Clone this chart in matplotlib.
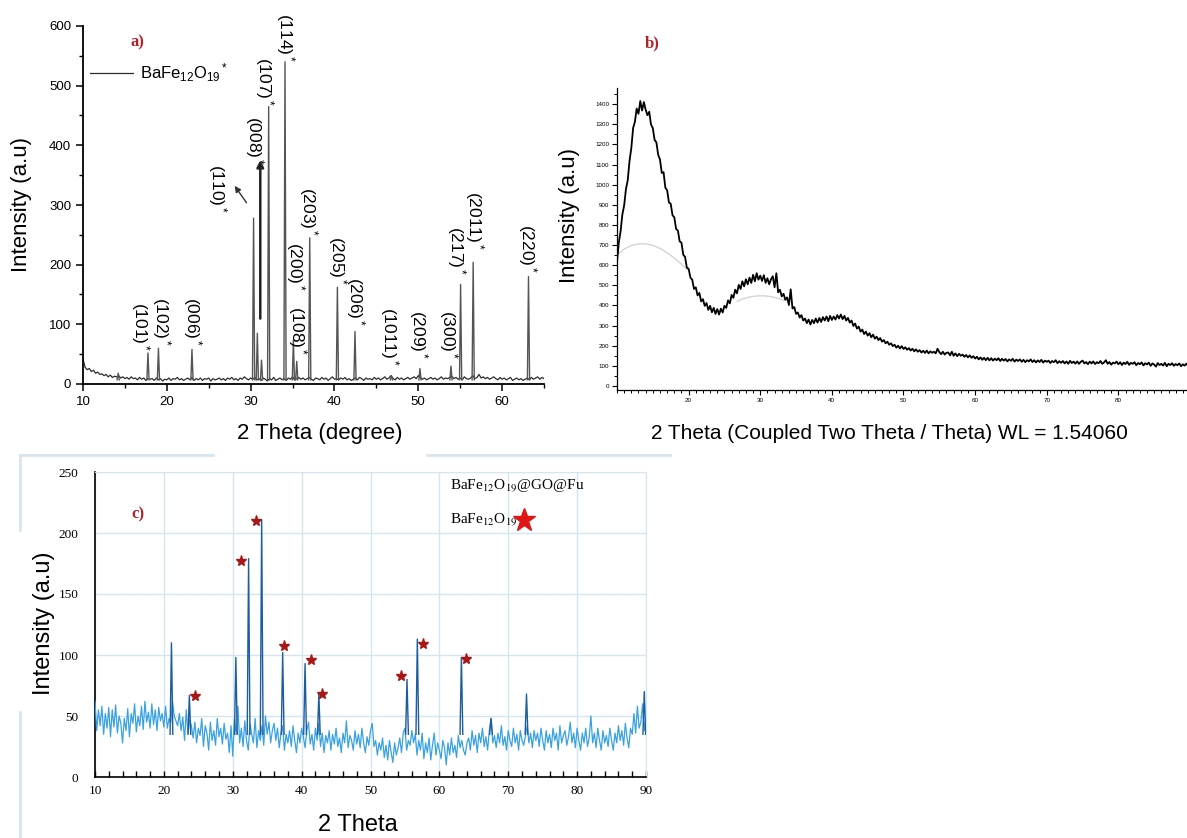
import numpy as np
import matplotlib
matplotlib.use('Agg')
import matplotlib.pyplot as plt
from matplotlib.lines import Line2D
from matplotlib.ticker import MultipleLocator
from matplotlib.font_manager import FontProperties

plt.rcParams['font.family'] = ['Liberation Sans', 'DejaVu Sans']
plt.rcParams['mathtext.fontset'] = 'custom'
plt.rcParams['mathtext.rm'] = 'Liberation Sans'
plt.rcParams['mathtext.it'] = 'Liberation Sans:italic'
plt.rcParams['mathtext.bf'] = 'Liberation Sans:bold'

# ---------------- panel a : BaFe12O19 ----------------
a_theta0, a_step = 10.0, 0.25
a_counts = [42, 28, 24, 26, 21, 23, 18, 20, 16,
            17, 14, 16, 12, 15, 11, 13, 12,
            14, 10, 12, 9, 11, 8, 12, 9,
            10, 7, 11, 8, 10, 6, 9, 8,
            9, 6, 10, 7, 9, 5, 8, 7,
            10, 6, 9, 8, 11, 7, 9, 6,
            8, 10, 7, 11, 6, 9, 7, 10,
            6, 9, 8, 10, 5, 9, 7, 8,
            10, 7, 9, 6, 10, 8, 11, 7,
            9, 6, 10, 8, 12, 9, 7, 10,
            8, 11, 7, 9, 6, 10, 8, 5,
            9, 7, 11, 6, 8, 10, 7, 9,
            6, 10, 8, 12, 7, 9, 11, 8,
            10, 7, 9, 11, 8, 6, 10, 9,
            7, 11, 8, 10, 6, 9, 12, 8,
            9, 7, 10, 8, 11, 7, 9, 6,
            8, 10, 7, 11, 9, 6, 10, 8,
            9, 7, 11, 8, 10, 7, 9, 12,
            8, 10, 14, 9, 7, 11, 8, 10,
            7, 9, 11, 8, 10, 12, 9, 14,
            11, 8, 10, 7, 9, 11, 8, 10,
            7, 9, 12, 8, 10, 9, 11, 13,
            9, 11, 8, 10, 7, 12, 9, 8,
            10, 14, 9, 11, 16, 10, 12, 9,
            11, 8, 10, 12, 9, 7, 11, 8,
            10, 7, 9, 11, 6, 8, 10, 7,
            9, 6, 8, 10, 7, 11, 8, 10,
            12, 8, 11, 9]
a_peak_pos = [14.2, 17.75, 19.0, 23.0, 30.35, 30.8, 31.3, 32.15, 34.1, 35.1, 35.5,
              37.05, 40.35, 42.45, 46.8, 50.2, 53.9, 55.05, 56.55, 63.15]
a_peak_h = [18, 52, 60, 58, 278, 85, 40, 465, 540, 74, 38,
            245, 162, 88, 14, 26, 30, 167, 204, 180]
a_labels = ['(101)', '(102)', '(006)', '(110)', '(008)', '(107)', '(114)', '(200)', '(108)',
            '(203)', '(205)', '(206)', '(1011)', '(209)', '(300)', '(217)', '(2011)', '(220)']
a_label_x = [16.9, 19.4, 23.0, 26.1, 30.4, 31.7, 34.1, 35.4, 35.55,
             36.85, 40.3, 42.5, 46.6, 50.0, 53.6, 54.55, 56.75, 63.0]
a_label_y = [54, 63, 63, 286, 367, 465, 540, 155, 48,
             248, 166, 97, 30, 41, 41, 182, 224, 185]

# ---------------- panel b : amorphous pattern ----------------
b_theta0, b_step = 10.0, 0.25
b_counts = [615, 712, 768, 852, 897, 978, 1022, 1118, 1182,
            1281, 1312, 1378, 1352, 1415, 1368, 1410, 1372,
            1345, 1362, 1298, 1281, 1222, 1210, 1148, 1125,
            1058, 1062, 985, 972, 912, 905, 848, 838,
            780, 772, 718, 712, 652, 641, 588, 582,
            538, 528, 482, 490, 450, 462, 420, 431,
            398, 412, 378, 398, 366, 388, 358, 382,
            355, 384, 365, 398, 388, 425, 410, 452,
            438, 478, 460, 502, 482, 520, 495, 530,
            505, 538, 512, 552, 520, 560, 528, 548,
            522, 550, 512, 535, 505, 530, 545, 490,
            560, 465, 478, 445, 458, 428, 440, 402,
            480, 385, 392, 358, 365, 340, 352, 325,
            335, 312, 330, 305, 328, 312, 335, 315,
            338, 318, 342, 325, 345, 322, 348, 328,
            345, 330, 352, 335, 355, 332, 348, 325,
            338, 315, 325, 298, 310, 285, 295, 270,
            280, 258, 270, 250, 262, 242, 255, 235,
            245, 228, 238, 220, 228, 212, 220, 205,
            212, 198, 205, 190, 200, 186, 198, 184,
            192, 180, 188, 176, 185, 172, 182, 170,
            178, 166, 175, 164, 176, 162, 172, 165,
            170, 162, 185, 168, 158, 170, 156, 165,
            166, 152, 170, 150, 162, 148, 160, 150,
            156, 145, 154, 142, 152, 140, 148, 136,
            145, 132, 142, 130, 140, 128, 140, 127,
            138, 126, 136, 128, 138, 124, 135, 126,
            134, 122, 132, 125, 135, 121, 131, 124,
            132, 120, 130, 118, 128, 122, 132, 119,
            128, 117, 127, 119, 130, 116, 126, 120,
            126, 114, 124, 118, 128, 113, 123, 115,
            124, 112, 122, 110, 125, 114, 121, 111,
            122, 110, 120, 126, 112, 119, 108, 121,
            112, 122, 109, 118, 113, 124, 110, 117,
            128, 110, 119, 106, 116, 112, 121, 108,
            118, 104, 116, 109, 120, 105, 115, 110,
            118, 103, 114, 108, 117, 102, 113, 107,
            116, 100, 112, 106, 96, 114, 104, 110,
            101, 115, 98, 110, 104, 113, 100, 109,
            103, 112, 98, 108, 101, 111, 100, 107]
b_bg1_x = [10, 11, 12, 13, 14, 15, 16, 17, 18, 19, 19.8]
b_bg1_y = [650, 680, 698, 706, 706, 698, 684, 662, 635, 605, 578]
b_bg2_x = [26.8, 27.5, 28.5, 29.5, 30.5, 31.5, 32.5, 33.3]
b_bg2_y = [420, 432, 442, 447, 448, 444, 435, 425]

# ---------------- panel c : BaFe12O19@GO@Fu ----------------
c_theta0, c_step = 10.0, 0.25
c_counts = [62, 38, 55, 42, 58, 35, 52, 40, 57,
            33, 55, 41, 59, 36, 50, 44, 28,
            48, 38, 56, 33, 52, 44, 60, 37,
            50, 42, 58, 39, 62, 45, 53, 40,
            60, 43, 55, 38, 57, 46, 52, 41,
            58, 40, 48, 44, 62, 50, 46, 42,
            52, 38, 49, 30, 55, 36, 47, 42,
            32, 45, 28, 40, 34, 48, 25, 42,
            36, 22, 45, 30, 38, 26, 48, 33,
            40, 27, 44, 31, 36, 20, 42, 17,
            48, 35, 58, 28, 40, 25, 46, 30,
            22, 44, 35, 28, 48, 24, 38, 30,
            42, 26, 50, 35, 45, 28, 38, 44,
            30, 40, 24, 36, 42, 22, 35, 28,
            38, 25, 42, 30, 20, 36, 28, 40,
            33, 24, 38, 45, 27, 35, 22, 40,
            30, 44, 25, 36, 20, 34, 28, 38,
            22, 35, 27, 40, 25, 32, 20, 36,
            28, 46, 24, 34, 30, 22, 38, 27,
            35, 24, 40, 28, 20, 33, 26, 38,
            44, 25, 30, 18, 28, 22, 32, 16,
            26, 14, 30, 20, 12, 28, 18, 24,
            32, 20, 36, 40, 22, 30, 26, 38,
            28, 35, 18, 30, 22, 36, 15, 28,
            20, 32, 14, 26, 36, 18, 28, 22,
            15, 30, 24, 10, 28, 18, 32, 20,
            26, 16, 34, 24, 30, 22, 18, 28,
            32, 22, 38, 26, 34, 20, 36, 28,
            40, 25, 33, 22, 38, 48, 28, 34,
            24, 36, 28, 42, 26, 33, 22, 38,
            30, 25, 40, 28, 35, 22, 38, 30,
            26, 34, 42, 28, 36, 24, 38, 30,
            36, 25, 40, 30, 22, 38, 28, 35,
            24, 40, 30, 36, 22, 42, 28, 34,
            38, 26, 33, 45, 28, 36, 24, 40,
            30, 22, 36, 28, 40, 25, 32, 50,
            28, 36, 24, 40, 30, 22, 38, 28,
            34, 25, 40, 30, 22, 36, 28, 42,
            30, 38, 26, 44, 32, 24, 40, 35,
            52, 36, 58, 40, 45, 60, 38, 48]
c_peak_pos = [21.1, 23.7, 30.45, 32.3, 34.2, 37.25, 40.5, 42.5, 55.3, 56.8, 63.2, 67.5, 72.65, 89.75]
c_peak_h = [110, 67, 98, 179, 211, 102, 93, 68, 80, 113, 98, 48, 68, 70]
c_star_x = [24.5, 31.2, 33.4, 37.4, 41.3, 43.0, 54.4, 57.6, 63.8]
c_star_y = [66, 177, 210, 107, 96, 68, 83, 109, 97]

W, H = 1187, 838
RED = '#b3202a'


def box(l, t, r, b):
    return [l / W, 1 - b / H, (r - l) / W, (b - t) / H]


def peak_lines(pos, h, base, w):
    xs, ys = [], []
    for p, v in zip(pos, h):
        xs += [p - w, p, p + w, np.nan]
        ys += [base, v, base, np.nan]
    return xs, ys


fig = plt.figure(figsize=(W / 100, H / 100), dpi=100)

# ---- a ----
ax = fig.add_axes(box(83, 26, 544, 384))
a_x = a_theta0 + a_step * np.arange(len(a_counts))
ax.plot(a_x, a_counts, color='#2e2e2e', lw=0.9, label=r'BaFe$_{12}$O$_{19}$$^*$')
px, py = peak_lines(a_peak_pos, a_peak_h, 7, 0.13)
ax.plot(px, py, color='#555555', lw=1.0)
for lab, lx, ly in zip(a_labels, a_label_x, a_label_y):
    ax.text(lx, ly, lab + r'$^*$', rotation=270, ha='center', va='bottom',
            fontsize=12.5, clip_on=False)
ax.annotate('', xy=(31.15, 380), xytext=(31.15, 105),
            arrowprops=dict(arrowstyle='-|>', color='#222222', lw=1.8, mutation_scale=10))
ax.annotate('', xy=(27.9, 336), xytext=(29.7, 300),
            arrowprops=dict(arrowstyle='-|>', color='#333333', lw=1.0, mutation_scale=9))
ax.set_xlim(10, 65)
ax.set_ylim(0, 600)
ax.xaxis.set_major_locator(MultipleLocator(10))
ax.xaxis.set_minor_locator(MultipleLocator(5))
ax.yaxis.set_major_locator(MultipleLocator(100))
ax.yaxis.set_minor_locator(MultipleLocator(50))
ax.tick_params(which='major', length=5, width=1.1, labelsize=9.5)
ax.tick_params(which='minor', length=3, width=1.0)
for s in ['top', 'right']:
    ax.spines[s].set_visible(False)
for s in ['left', 'bottom']:
    ax.spines[s].set_linewidth(1.3)
leg = ax.legend(loc='center left', bbox_to_anchor=(0.015, 0.869), frameon=False,
                handlelength=2.6, handletextpad=0.4, borderpad=0, borderaxespad=0,
                prop=FontProperties(family='Liberation Sans', size=12))
ax.text(0.118, 0.955, 'a)', transform=ax.transAxes, ha='center', va='center',
        color=RED, fontsize=12, fontweight='bold', family='Liberation Serif')
fig.text(22 / W, 1 - 205 / H, 'Intensity (a.u)', rotation=90, ha='center', va='center', fontsize=16)
fig.text(320 / W, 1 - 433 / H, '2 Theta (degree)', ha='center', va='center', fontsize=16)

# ---- b ----
bx = fig.add_axes(box(617, 88, 1190, 390))
b_x = b_theta0 + b_step * np.arange(len(b_counts))
bx.plot(b_bg1_x, b_bg1_y, color='#d4d4d4', lw=1.0, zorder=1)
bx.plot(b_bg2_x, b_bg2_y, color='#d4d4d4', lw=1.0, zorder=1)
bx.plot(b_x, b_counts, color='black', lw=1.3, zorder=2)
bx.set_xlim(10, 90)
bx.set_ylim(-20, 1480)
bx.set_xticks(np.arange(20, 91, 10))
bx.xaxis.set_minor_locator(MultipleLocator(1))
bx.set_yticks(np.arange(0, 1401, 100))
bx.yaxis.set_minor_locator(MultipleLocator(50))
bx.tick_params(which='major', length=3.5, width=0.8, labelsize=4.5, pad=2)
bx.tick_params(which='minor', length=2, width=0.7)
for s in ['top', 'right']:
    bx.spines[s].set_visible(False)
for s in ['left', 'bottom']:
    bx.spines[s].set_linewidth(0.9)
fig.text(652 / W, 1 - 43 / H, 'b)', ha='center', va='center', color=RED,
         fontsize=12, fontweight='bold', family='Liberation Serif')
fig.text(569 / W, 1 - 215 / H, 'Intensity (a.u)', rotation=90, ha='center', va='center', fontsize=16)
fig.text(889 / W, 1 - 433 / H, '2 Theta (Coupled Two Theta / Theta) WL = 1.54060',
         ha='center', va='center', fontsize=15)

# ---- c ----
cx = fig.add_axes(box(95, 472, 646, 777))
c_x = c_theta0 + c_step * np.arange(len(c_counts))
cx.plot(c_x, c_counts, color='#3aa2e0', lw=0.9, zorder=3)
px, py = peak_lines(c_peak_pos, c_peak_h, 35, 0.2)
cx.plot(px, py, color='#1c5d9e', lw=1.0, zorder=4)
cx.plot(c_star_x, c_star_y, linestyle='none', marker='*', color='#a81818', markersize=8, zorder=5)
cx.set_xlim(10, 90)
cx.set_ylim(0, 250)
cx.xaxis.set_major_locator(MultipleLocator(10))
cx.xaxis.set_minor_locator(MultipleLocator(2))
cx.yaxis.set_major_locator(MultipleLocator(50))
cx.grid(True, which='major', color='#d6e6f0', lw=1.0, zorder=0)
cx.set_axisbelow(True)
cx.tick_params(axis='x', which='both', direction='in', length=4, width=1.0, labelsize=9.5, pad=6)
cx.tick_params(axis='y', length=0, labelsize=9.5, pad=12)
for t in cx.get_xticklabels() + cx.get_yticklabels():
    t.set_family('Liberation Serif')
for s in ['top', 'right']:
    cx.spines[s].set_color('#d6e6f0')
for s in ['left', 'bottom']:
    cx.spines[s].set_linewidth(1.2)
cx.text(61.6, 239, r'BaFe$_{12}$O$_{19}$@GO@Fu', family='Liberation Serif', math_fontfamily='stix',
        fontsize=11, va='center', ha='left')
cx.text(61.6, 210.5, r'BaFe$_{12}$O$_{19}$', family='Liberation Serif', math_fontfamily='stix',
        fontsize=11, va='center', ha='left')
cx.plot([72.3], [211], marker='*', color='#e01515', markersize=17, linestyle='none', clip_on=False)
cx.text(0.078, 0.86, 'c)', transform=cx.transAxes, ha='center', va='center', color=RED,
        fontsize=12, fontweight='bold', family='Liberation Serif')
fig.text(44 / W, 1 - 623 / H, 'Intensity (a.u)', rotation=90, ha='center', va='center', fontsize=17)
fig.text(358 / W, 1 - 825 / H, '2 Theta', ha='center', va='center', fontsize=17)

# light frame around panel c
frame = '#d8e6f0'
for xs, ys in [([20, 213], [455, 455]), ([427, 670], [455, 455]),
               ([20, 20], [455, 530]), ([20, 20], [712, 838])]:
    fig.add_artist(Line2D([x / W for x in xs], [1 - y / H for y in ys],
                          transform=fig.transFigure, color=frame, lw=2))

fig.savefig('out.png', dpi=100)
